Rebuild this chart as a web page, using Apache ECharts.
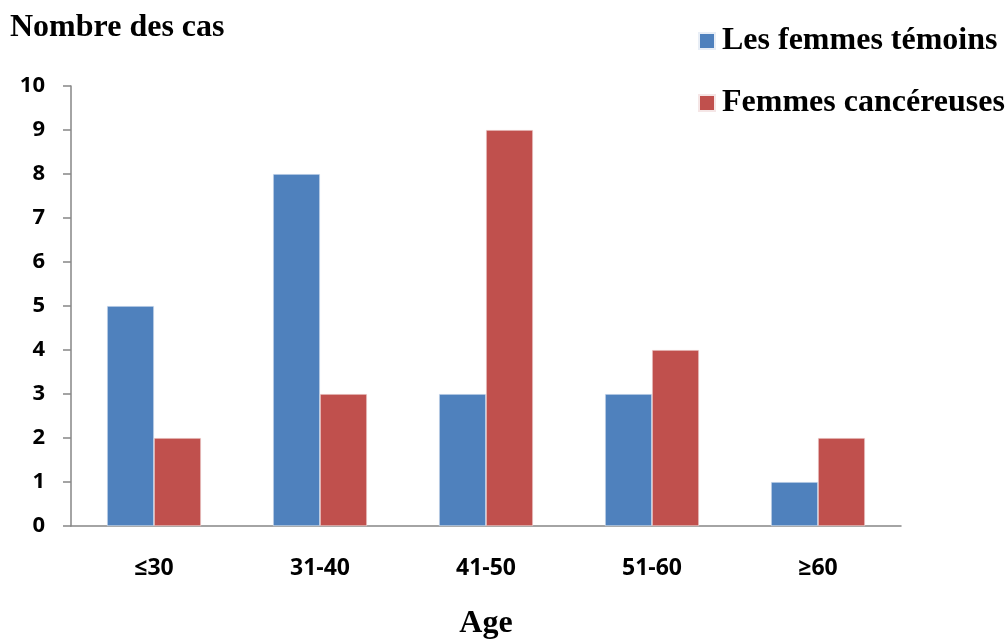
<!DOCTYPE html>
<html>
<head>
<meta charset="utf-8">
<script src="https://cdn.jsdelivr.net/npm/echarts@6/dist/echarts.min.js"></script>
<style>
html,body{margin:0;padding:0;background:#fff;}
#chart{width:1008px;height:641px;}
</style>
</head>
<body>
<div id="chart"></div>
<script>
// Age groups and case counts
const ageGroups = ['≤30', '31-40', '41-50', '51-60', '≥60'];
const temoins = [5, 8, 3, 3, 1];
const cancereuses = [2, 3, 9, 4, 2];
const yTicks = [0, 1, 2, 3, 4, 5, 6, 7, 8, 9, 10];

const serif = '"Liberation Serif", "Times New Roman", serif';
const sans = '"Open Sans", "Liberation Sans", sans-serif';

const chart = echarts.init(document.getElementById('chart'), null, {renderer: 'canvas'});
chart.setOption({
  backgroundColor: '#ffffff',
  animation: false,
  title: [
    {text: 'Nombre des cas', left: 5, top: 7, padding: 5,
     textStyle: {fontFamily: serif, fontWeight: 'bold', fontSize: 32, color: '#000'}},
    {text: 'Age', left: 481, top: 603, textAlign: 'center',
     textStyle: {fontFamily: serif, fontWeight: 'bold', fontSize: 32, color: '#000'}}
  ],
  legend: {
    orient: 'vertical',
    left: 693,
    top: 18,
    itemWidth: 16,
    itemHeight: 16,
    itemGap: 26,
    icon: 'rect',
    textStyle: {fontFamily: serif, fontWeight: 'bold', fontSize: 32, color: '#000', lineHeight: 36, padding: [0, 0, 0, 2]},
    data: ['Les femmes témoins', 'Femmes cancéreuses']
  },
  grid: {left: 71, right: 107, top: 86, bottom: 115, containLabel: false},
  xAxis: {
    type: 'category',
    data: ageGroups,
    axisLine: {lineStyle: {color: '#868686', width: 1.5}},
    axisTick: {show: false},
    axisLabel: {margin: 31, fontFamily: sans, fontWeight: 'bold', fontSize: 23, color: '#000'}
  },
  yAxis: {
    type: 'value',
    min: yTicks[0],
    max: yTicks[yTicks.length - 1],
    interval: 1,
    axisLine: {show: true, lineStyle: {color: '#868686', width: 1.5}},
    axisTick: {show: true, length: 8, lineStyle: {color: '#868686', width: 1.5}},
    splitLine: {show: false},
    axisLabel: {margin: 26, fontFamily: sans, fontWeight: 'bold', fontSize: 22, color: '#000'}
  },
  series: [
    {name: 'Les femmes témoins', type: 'bar', data: temoins, barWidth: 47, barGap: '0%',
     itemStyle: {color: '#4F81BD', borderColor: '#e8eef6', borderWidth: 0.6}},
    {name: 'Femmes cancéreuses', type: 'bar', data: cancereuses, barWidth: 47, barGap: '0%',
     itemStyle: {color: '#C0504D', borderColor: '#f5e6e6', borderWidth: 0.6}}
  ]
});
</script>
</body>
</html>
